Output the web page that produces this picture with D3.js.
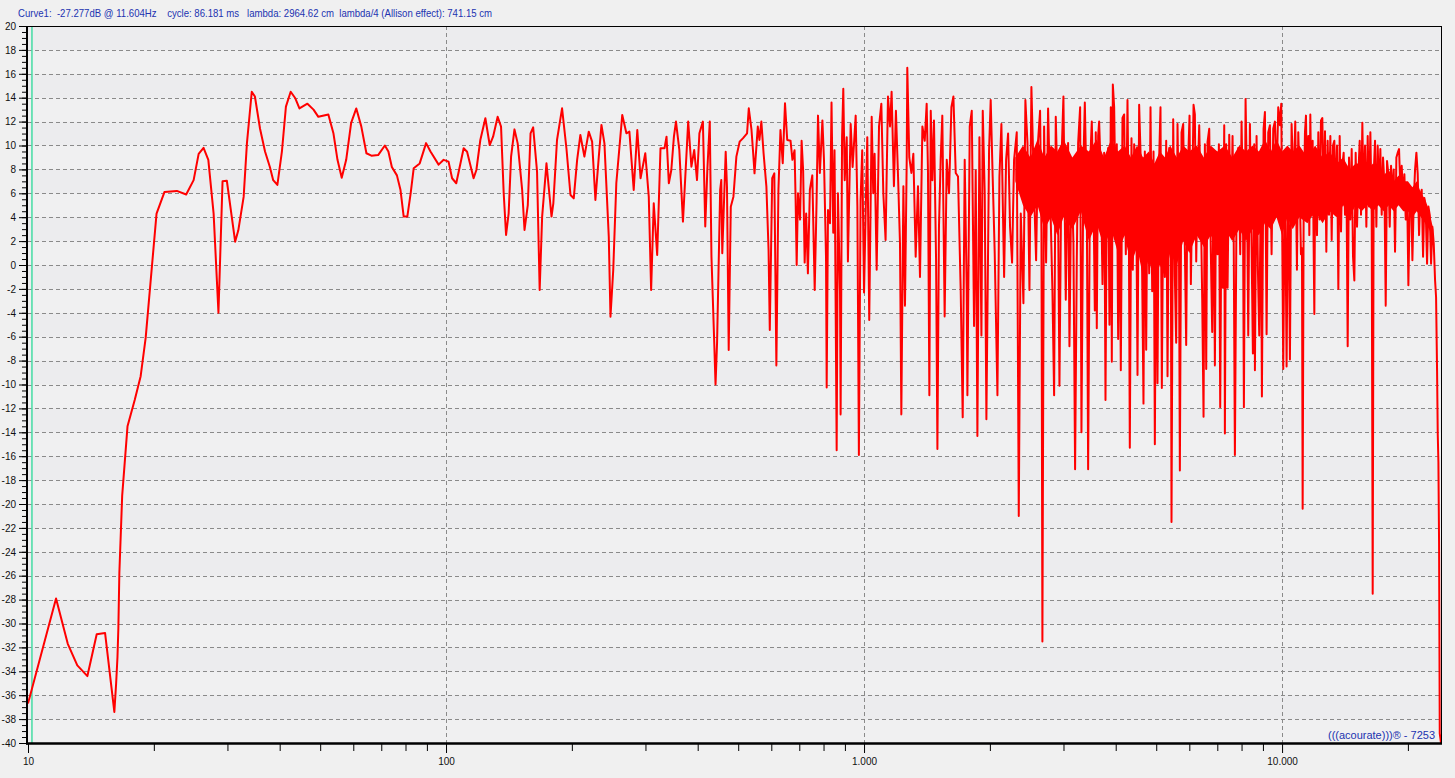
<!DOCTYPE html>
<html><head><meta charset="utf-8">
<script src="https://cdn.jsdelivr.net/npm/d3@7"></script>
<style>html,body{margin:0;padding:0;background:#f0f0f0;overflow:hidden}</style>
</head><body><svg id="c" width="1455" height="778"></svg>
<script>
// ---------------- data ----------------
const titleText = "Curve1:  -27.277dB @ 11.604Hz    cycle: 86.181 ms   lambda: 2964.62 cm  lambda/4 (Allison effect): 741.15 cm";
const watermarkText = "(((acourate)))® - 7253";
const freqDomain = [10, 24000];
const dbDomain = [-40, 20];
const majorFreqTicks = [10, 100, 1000, 10000];
const majorFreqLabels = ["10", "100", "1.000", "10.000"];
const minorFreqTicks = [20,30,40,50,60,70,80,90,200,300,400,500,600,700,800,900,2000,3000,4000,5000,6000,7000,8000,9000,20000];
const gridFreqs = [100, 1000, 10000];
const dbTicks = [-40,-38,-36,-34,-32,-30,-28,-26,-24,-22,-20,-18,-16,-14,-12,-10,-8,-6,-4,-2,0,2,4,6,8,10,12,14,16,18,20];
const cursorHz = 10.22;

// [frequency Hz, level dB]
const bassBand = [[10,-36.7],[11.67,-27.9],[12.45,-31.7],[13.12,-33.5],[13.87,-34.4],[14.6,-30.9],[15.29,-30.8],[16.09,-37.4],[16.25,-35.0],[16.37,-32.8],[16.45,-30.4],[16.54,-25.8],[16.8,-19.3],[17.3,-13.5],[18.0,-11.3],[18.6,-9.3],[19.12,-6.1],[20.3,4.3],[21.2,6.1],[22.7,6.2],[23.9,5.9],[24.9,7.1],[25.6,9.3],[26.3,9.8],[27.0,8.8],[27.8,4.3],[28.55,-4.0],[29.2,7.0],[29.9,7.05],[31.3,1.95],[31.85,2.9],[32.8,5.7],[33.4,10.2],[34.3,14.5],[34.9,14.1],[35.9,11.4],[36.9,9.5],[37.9,8.2],[38.6,7.1],[39.5,6.7],[40.5,9.5],[41.4,13.25],[42.5,14.5],[43.6,13.95],[44.6,13.1],[46.6,13.5],[48.2,13.0],[49.5,12.4],[52.3,12.6],[53.8,11.0],[55,8.8],[56.3,7.3],[57.7,8.8],[59.3,11.9],[61,13.1],[62.7,11.6],[64.5,9.35],[66.3,9.15],[68.8,9.2],[71.4,10.0],[72.8,9.5],[74.2,8.2],[76.3,7.5],[77.8,6.3],[79.2,4.05],[80.8,4.05],[82.3,6.0],[83.7,8.1],[86.5,8.5],[89.6,10.2],[91.8,9.5],[96,8.4],[98.7,8.8]];

const lowMidBand = [[101.4,8.65],[103.4,7.26],[105.8,6.84],[110.2,9.77],[112.3,9.48],[116.4,7.26],[118.2,7.95],[120.8,10.46],[124.2,12.28],[127.2,10.04],[129.6,10.74],[132.9,12.41],[135.4,11.58],[137.4,6.0],[139.2,2.51],[141.2,4.33],[143.1,9.07],[145.8,11.35],[148.4,10.18],[152.1,6.28],[154.1,2.93],[156.9,5.02],[159.3,11.02],[161.6,11.52],[165.1,7.81],[167.5,-2.09],[169.8,4.05],[173.9,8.51],[175.1,7.4],[178.8,4.05],[180.6,5.16],[184.3,10.46],[189.5,13.11],[194.1,9.77],[198.5,5.86],[202.1,5.58],[205.9,8.79],[209.6,10.88],[214.3,9.07],[219.5,11.16],[223.6,10.32],[227.7,5.44],[232,9.07],[235.4,11.72],[239.3,10.18],[245.1,2.37],[247.4,-4.33],[251.2,-0.42],[255.5,6.84],[264,12.56],[270.1,11.02],[274.6,11.16],[281.2,6.28],[286.8,11.3],[292,7.26],[299.7,9.35],[305.5,5.72],[309.5,-2.09],[314,5.16],[320,0.84],[325.9,9.77],[333.2,9.77],[336.9,10.74],[341.2,6.84],[345.9,7.95],[350.9,10.74],[354.9,12.0],[361.5,9.63],[368.8,3.63],[379.6,12.0],[386.4,8.23],[392.4,9.63],[398.5,7.11],[403.8,11.02],[411.6,12.0],[417,3.22],[421.8,7.95],[427.5,12.0],[431.5,0.7],[438.2,-6.55],[441.3,-10.0],[445,-6.55],[452.7,6.28],[455.5,7.11],[458,0.98],[466.7,9.48],[470,6.56],[474.5,-7.11],[480,4.88],[487,5.72],[495,9.07],[504,10.32],[513,10.6],[525,11.02],[530,13.11],[538,11.3],[543,9.35],[547,7.67],[557,11.58],[562,10.46],[568,12.0],[575,9.35],[584,6.56],[591,1.26],[595,-5.44],[603,7.26],[610,7.67],[617,-8.4],[624,6.28],[631,11.3],[639,8.51],[647,13.53],[655,10.46]];

const midBand = [[667,10.4],[674,8.8],[682,9.6],[686,5.4],[690,0.0],[695,6.0],[703,3.8],[709,10.4],[715,7.9],[721,0.2],[727,4.3],[734,-0.7],[742,6.3],[752,7.5],[762,-2.1],[770,5.4],[776,12.5],[784,7.7],[795,12.1],[802,8.8],[811,0.7],[814,-10.25],[820,4.6],[829,3.5],[836,13.6],[844,2.7],[850,9.6],[860,-15.5],[866,6.0],[876,-2.3],[879,-12.5],[886,10.7],[892,14.75],[899,7.1],[909,10.7],[915,0.3],[929,11.8],[939,8.2],[955,12.5],[964,4.9],[972,-15.9],[981,5.4],[990,9.6],[1000,-2.3],[1011,6.0],[1018,10.7],[1029,-4.6],[1043,12.4],[1052,6.0],[1060,9.3],[1072,-0.4],[1086,11.6],[1100,13.5],[1112,6.0],[1126,2.1],[1141,14.1],[1154,11.6],[1164,14.5],[1179,6.6],[1192,12.9],[1206,7.4],[1219,1.8],[1228,-12.5],[1242,6.6],[1253,-3.4],[1265,8.8],[1269,16.5],[1283,9.0],[1298,7.7],[1312,9.3],[1329,0.7],[1346,6.6],[1361,-1.0],[1379,11.6],[1397,10.4],[1412,13.5],[1422,7.9],[1433,-10.9],[1444,12.9],[1457,7.1],[1470,12.1],[1487,0.4],[1498,-15.4],[1511,3.2],[1525,8.8],[1539,12.5],[1559,-4.3],[1577,8.8],[1597,6.0],[1618,13.2],[1636,14.1],[1657,7.7],[1678,7.4],[1703,-2.1],[1722,-12.75],[1741,8.8],[1760,-1.8],[1767,-10.9],[1790,11.6],[1810,12.9],[1833,-5.1],[1850,7.9],[1867,-14.3],[1888,10.7],[1909,-5.9],[1923,12.9],[1944,6.0],[1962,-12.9],[1991,9.6],[2009,13.8],[2031,7.4],[2054,1.0],[2085,-10.9],[2108,7.4],[2131,11.8],[2163,-1.0],[2187,8.8],[2211,11.0],[2235,3.2],[2260,0.2],[2285,8.8],[2319,11.1],[2345,-21.0],[2371,4.3],[2406,-3.2],[2432,13.8],[2460,10.2],[2487,-2.1],[2514,14.9],[2552,6.0],[2580,0.4],[2608,10.4],[2637,12.9],[2657,2.7],[2671,-31.5],[2696,11.6],[2726,0.2],[2756,13.1],[2787,6.0],[2823,-2.3],[2849,-10.9],[2875,12.4],[2912,4.6],[2934,-10.1],[2967,8.8],[2999,14.1],[3038,-2.9],[3077,10.2],[3100,-6.8],[3135,8.2],[3169,1.8],[3198,-17.1],[3228,0.4],[3252,10.2],[3288,13.2],[3312,-14.0],[3349,8.8],[3374,13.6],[3411,5.4],[3436,-17.1],[3474,8.5]];

const highMidBand = [[3506,12.0],[3539,5.8],[3565,-3.8],[3584,11.1],[3604,-5.3],[3631,10.8],[3651,12.0],[3685,7.7],[3719,-1.6],[3753,9.4],[3781,-11.3],[3809,6.4],[3837,9.8],[3865,-5.0],[3893,13.2],[3915,-8.1],[3937,15.1],[3966,13.2],[3995,5.5],[4024,10.1],[4054,-6.2],[4084,6.7],[4114,-8.8],[4152,12.3],[4190,12.6],[4229,0.9],[4268,13.8],[4300,3.4],[4323,-15.3],[4363,10.6],[4395,-0.4],[4428,10.1],[4477,6.4],[4510,-9.2],[4551,13.4],[4593,8.6],[4627,-0.7],[4661,-11.6],[4696,9.5],[4731,-7.1],[4766,8.0],[4810,-0.7],[4845,13.2],[4890,-2.2],[4926,9.5],[4962,-15.0],[4999,6.1],[5035,-9.9],[5073,8.0],[5119,13.2],[5157,-10.3],[5205,8.9],[5243,-1.0],[5282,10.4],[5321,-9.3],[5370,9.8],[5419,2.4],[5439,-21.5],[5490,12.2],[5540,-1.0],[5581,-6.5],[5622,11.8],[5664,4.0],[5695,-17.2],[5748,11.1],[5801,11.8],[5854,1.5],[5897,-6.7],[5941,7.1],[6007,12.5],[6051,-1.6],[6096,5.8],[6141,13.4],[6186,12.6],[6232,0.3],[6278,7.1],[6336,11.7],[6394,4.6],[6441,-2.8],[6489,-12.7],[6537,10.1],[6585,-8.7],[6633,10.3],[6695,11.4],[6756,0.9],[6806,-5.6],[6856,7.1],[6907,-8.4],[6958,8.6],[7009,0.9],[7061,10.1],[7113,-11.9],[7166,7.1],[7218,-1.9],[7272,11.7],[7298,-14.1],[7352,10.1],[7407,-1.9],[7475,10.9],[7544,2.4],[7613,10.8],[7656,4.0],[7712,-15.9],[7783,5.2],[7855,9.8],[7942,0.9],[8000,12.0],[8060,5.5],[8104,-11.9],[8179,13.9],[8239,7.1],[8300,-5.9],[8377,11.8],[8454,1.5],[8516,-7.4],[8579,10.1],[8611,-8.8],[8690,10.8],[8754,-0.4],[8819,-5.9],[8900,7.1],[8949,-11.0],[9032,11.4],[9099,12.8],[9183,-5.8],[9267,11.1],[9353,11.7],[9439,0.9],[9526,11.4],[9614,12.0],[9703,7.1],[9792,13.2],[9883,11.7],[9956,13.5],[10011,2.1],[10066,-8.7],[10159,8.9],[10253,-8.5],[10347,9.5],[10443,-7.9],[10539,11.8],[10656,6.4],[10754,12.0],[10854,-0.4],[10934,11.1],[11014,7.1],[11096,0.9]];

const trebleBand = [[11159,1.4],[11201,-20.4],[11262,4.2],[11345,11.1],[11408,12.5],[11471,5.9],[11556,10.8],[11620,2.5],[11684,12.6],[11771,4.2],[11835,10.4],[11901,1.4],[11945,-4.1],[12011,9.4],[12122,2.5],[12211,11.1],[12301,3.8],[12391,12.1],[12483,12.3],[12575,4.9],[12668,11.2],[12761,1.1],[12856,10.4],[12951,4.2],[13046,10.8],[13143,2.1],[13239,10.0],[13337,10.4],[13435,4.9],[13534,10.0],[13634,-2.0],[13735,10.8],[13836,2.8],[13938,8.3],[14040,9.4],[14144,4.2],[14249,8.3],[14354,-6.8],[14460,9.0],[14567,3.8],[14674,9.7],[14782,0.7],[14891,-1.3],[15000,9.4],[15112,3.2],[15223,7.6],[15336,10.4],[15449,4.2],[15562,11.9],[15677,4.9],[15792,10.0],[15909,3.2],[16027,10.8],[16144,4.9],[16264,11.1],[16384,4.2],[16474,-27.5],[16565,7.6],[16687,10.4],[16810,3.2],[16935,10.0],[17059,5.9],[17185,9.7],[17312,4.2],[17440,9.0],[17569,6.9],[17699,-3.4],[17829,8.7],[17960,7.6],[18094,3.2],[18227,8.3],[18362,5.6],[18497,8.0],[18632,1.1],[18770,9.0],[18909,9.4],[19048,9.7],[19189,6.3],[19330,8.3],[19473,5.6],[19617,7.6],[19761,3.8],[19908,6.6],[20053,-1.7],[20202,4.9],[20351,6.3],[20501,0.4],[20652,5.2],[20804,8.0],[20958,9.4],[21112,7.6],[21268,2.5],[21425,5.9],[21583,6.3],[21742,0.7],[21903,5.6],[22064,4.5],[22227,0.1],[22390,4.9],[22556,4.2],[22722,0.1],[22890,3.2],[23059,1.8],[23230,-1.3],[23358,-2.7],[23487,-8.9],[23573,-14.1],[23660,-16.5],[23747,-23.4],[23835,-39.2],[24000,-40]];

// solid body of the dense high-frequency trace: [Hz, upper dB, lower dB]
const denseBody = [[2300,9,7],[2400,10,5],[2500,9,4],[2600,10.5,5],[2700,9,3],[2800,10,4],[2900,9.5,2.5],[3000,10.5,4],[3150,9,3],[3300,10,4.5],[3450,9.5,2],[3600,10.5,3.5],[3750,9,1.5],[3900,10.5,3],[4050,9.5,1],[4200,10,2.5],[4350,9,0],[4500,10,1.5],[4650,9,-1],[4800,9.5,0.5],[4950,8.5,-1.5],[5100,9.5,0],[5250,9,-1],[5400,10,1],[5600,9,0],[5800,10,2],[6000,9.5,1],[6250,10,2.5],[6500,9,1.5],[6750,10,2.5],[7000,9.5,1.5],[7300,10,3],[7600,9,2],[7900,10,3],[8200,9.5,2],[8500,10,3],[8800,9.5,2.5],[9100,10.5,3.5],[9400,9.5,3],[9700,10.5,4],[10000,9.5,2.5],[10300,10,4],[10600,9.5,3],[11000,10,4],[11500,9,3.5],[12000,10,4.5],[12500,9,3.5],[13000,9.5,4.5],[13500,8.5,4],[14000,9,5],[14500,8,4],[15000,8.5,5],[15500,8.5,4.5],[16000,8,5],[16500,8.5,4.5],[17000,8,5],[17500,7.5,4.5],[18000,8,5],[18500,7,4.5],[19000,7.5,5],[19500,7,4.5],[20000,7,4.5],[20500,6.5,4],[21000,7,4.5],[21500,6,4],[22000,5.5,3.5],[22500,4.5,3],[23000,3,2]];

// ---------------- drawing ----------------
const W = 1455, H = 778;
const M = {top: 26, right: 14, bottom: 35, left: 28};
const svg = d3.select("#c");
const x = d3.scaleLog().domain(freqDomain).range([M.left, W - M.right]);
const y = d3.scaleLinear().domain(dbDomain).range([H - M.bottom, M.top]);
const FONT = "'Liberation Sans', Arial, sans-serif";

svg.append("rect").attr("width", W).attr("height", H).attr("fill", "#f0f0f0");

// plot background bands
const bands = dbTicks.slice(0, -1);
svg.append("g").selectAll("rect").data(bands).join("rect")
  .attr("x", x(freqDomain[0])).attr("width", x(freqDomain[1]) - x(freqDomain[0]))
  .attr("y", d => y(d + 2)).attr("height", d => y(d) - y(d + 2))
  .attr("fill", (d, i) => i % 2 ? "#ececee" : "#f0f0f1");

svg.append("clipPath").attr("id", "plotclip").append("rect")
  .attr("x", x(freqDomain[0])).attr("y", y(dbDomain[1]))
  .attr("width", x(freqDomain[1]) - x(freqDomain[0])).attr("height", y(dbDomain[0]) - y(dbDomain[1]));

// grid
const grid = svg.append("g").attr("stroke", "#8a8a8a").attr("stroke-width", 1).attr("stroke-dasharray", "4,3");
grid.selectAll("line.h").data(dbTicks.filter(d => d > dbDomain[0] && d < dbDomain[1])).join("line")
  .attr("class", "h").attr("x1", x(freqDomain[0])).attr("x2", x(freqDomain[1]))
  .attr("y1", d => Math.round(y(d)) + 0.5).attr("y2", d => Math.round(y(d)) + 0.5);
grid.selectAll("line.v").data(gridFreqs).join("line")
  .attr("class", "v").attr("y1", y(dbDomain[1])).attr("y2", y(dbDomain[0]))
  .attr("x1", d => Math.round(x(d)) + 0.5).attr("x2", d => Math.round(x(d)) + 0.5);

// cursor
svg.append("line").attr("x1", x(cursorHz)).attr("x2", x(cursorHz))
  .attr("y1", y(dbDomain[1])).attr("y2", y(dbDomain[0]))
  .attr("stroke", "#45dca4").attr("stroke-width", 1.5);

// dense body of the trace
const body = d3.area().x(d => x(d[0])).y0(d => y(d[2])).y1(d => y(d[1])).curve(d3.curveLinear);
svg.append("path").datum(denseBody).attr("d", body)
  .attr("clip-path", "url(#plotclip)").attr("fill", "#ff0000").attr("stroke", "none");

// curve
const curve = bassBand.concat(lowMidBand, midBand, highMidBand, trebleBand);
const line = d3.line().x(d => x(d[0])).y(d => y(d[1]));
svg.append("path").datum(curve).attr("d", line)
  .attr("clip-path", "url(#plotclip)")
  .attr("fill", "none").attr("stroke", "#ff0000").attr("stroke-width", 2)
  .attr("stroke-linejoin", "round");

// frame
svg.append("line").attr("x1", x(freqDomain[0])).attr("x2", x(freqDomain[1]) + 1)
  .attr("y1", y(dbDomain[1]) + 0.5).attr("y2", y(dbDomain[1]) + 0.5).attr("stroke", "#000").attr("stroke-width", 1);
svg.append("line").attr("x1", x(freqDomain[1]) + 0.5).attr("x2", x(freqDomain[1]) + 0.5)
  .attr("y1", y(dbDomain[1])).attr("y2", y(dbDomain[0])).attr("stroke", "#000").attr("stroke-width", 1);

// y axis
const yMinor = d3.range(dbDomain[0], dbDomain[1] + 0.01, 0.5);
svg.append("g").attr("transform", `translate(${M.left - 1},0)`)
  .call(d3.axisLeft(y).tickValues(yMinor).tickSize(5).tickFormat(""))
  .call(g => g.select(".domain").remove());
const yAx = svg.append("g").attr("transform", `translate(${M.left - 1},0)`)
  .call(d3.axisLeft(y).tickValues(dbTicks).tickSize(8).tickPadding(3).tickFormat(d => String(d)))
  .call(g => g.select(".domain").remove());
yAx.selectAll("text").attr("font-family", FONT).attr("font-size", 10).attr("fill", "#111");
svg.append("line").attr("x1", M.left - 1).attr("x2", M.left - 1)
  .attr("y1", y(dbDomain[1])).attr("y2", y(dbDomain[0]) + 1.5)
  .attr("stroke", "#000").attr("stroke-width", 2);

// x axis
svg.append("g").attr("transform", `translate(0,${H - M.bottom})`)
  .call(d3.axisBottom(x).tickValues(minorFreqTicks).tickSize(8).tickFormat(""))
  .call(g => g.select(".domain").remove());
const xAx = svg.append("g").attr("transform", `translate(0,${H - M.bottom})`)
  .call(d3.axisBottom(x).tickValues(majorFreqTicks).tickSize(10).tickPadding(5)
    .tickFormat((d, i) => majorFreqLabels[i]))
  .call(g => g.select(".domain").remove());
xAx.selectAll("text").attr("font-family", FONT).attr("font-size", 10).attr("fill", "#111");
svg.append("line").attr("x1", M.left - 2).attr("x2", x(freqDomain[1]) + 1)
  .attr("y1", y(dbDomain[0]) + 0.5).attr("y2", y(dbDomain[0]) + 0.5)
  .attr("stroke", "#000").attr("stroke-width", 2.5);

// texts
svg.append("text").attr("x", 18).attr("y", 16.5)
  .attr("font-family", FONT).attr("font-size", 10.5).attr("fill", "#2233b0")
  .style("white-space", "pre").attr("textLength", 474).attr("lengthAdjust", "spacingAndGlyphs")
  .text(titleText);
svg.append("text").attr("x", 1435).attr("y", 739).attr("text-anchor", "end")
  .attr("font-family", FONT).attr("font-size", 10.5).attr("fill", "#2233b0")
  .attr("textLength", 107).attr("lengthAdjust", "spacingAndGlyphs")
  .text(watermarkText);
</script></body></html>
